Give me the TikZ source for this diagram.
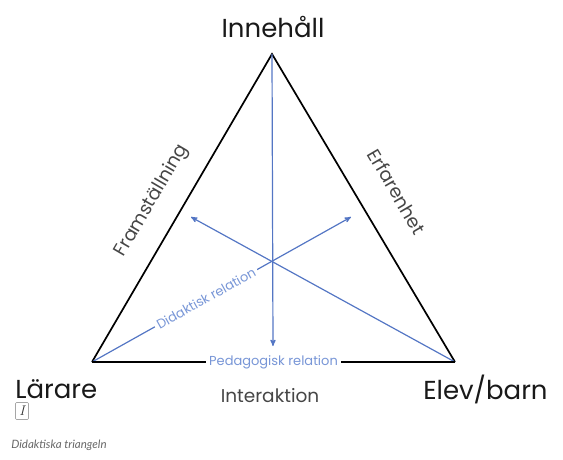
\documentclass[tikz,border=0pt]{standalone}
\usepackage{fontspec}
\setmainfont{Poppins}
\newfontfamily\capfont{Lato}
\newfontfamily\boxfont{Latin Modern Roman}
\usetikzlibrary{arrows}
\definecolor{relblue}{RGB}{84,118,196}
\definecolor{lightblue}{RGB}{120,150,215}
\definecolor{labgray}{RGB}{70,70,70}

\begin{document}
\begin{tikzpicture}[x=1pt,y=-1pt,>=stealth',semithick]
  \tikzstyle{corner}=[font=\fontsize{26}{26}\selectfont,text=black!90,inner sep=0pt]
  \tikzstyle{side}=[font=\fontsize{18.5}{18.5}\selectfont,text=labgray,inner sep=0pt]
  \tikzstyle{relation}=[font=\fontsize{13}{13}\selectfont,text=lightblue,fill=white,inner sep=3pt]
  \tikzstyle{rel}=[->,relblue,line width=1.2pt]
  \tikzstyle{edge}=[black,line width=1.7pt]
  \useasboundingbox (0,0) rectangle (563,459);

  % corners and centre
  \coordinate (inn)  at (272,54);
  \coordinate (lar)  at (92,362);
  \coordinate (elev) at (455,362);
  \coordinate (mid)  at (273,262);
  % arrow tips
  \coordinate (tipD) at (273,346);
  \coordinate (tipL) at (191,217);
  \coordinate (tipR) at (351,217);

  \draw[edge] (lar) -- (inn) -- (elev);

  \draw[rel] (inn) -- (tipD);
  \draw[rel] (elev) -- (tipL);
  \draw[rel] (lar) -- node[relation,sloped,pos=0.44] (did) {Didaktisk relation} (tipR);
  \draw[edge] (lar) -- node[relation] (ped) {Pedagogisk relation} (elev);

  \node[corner,anchor=base]      (innlab)  at (273,37)  {Innehåll};
  \node[corner,anchor=base west] (larlab)  at (15,398)  {Lärare};
  \node[corner,anchor=base west] (elevlab) at (423,399) {Elev/barn};
  \node[side,anchor=base]        (intlab)  at (270,402) {Interaktion};
  \node[side,rotate=59.6]        (framlab) at (152,201) {Framställning};
  \node[side,rotate=-59.6]       (erflab)  at (397,192) {Erfarenhet};

  \node[draw=black!35,rounded corners=1pt,inner sep=1pt,minimum width=13pt,minimum height=17pt,
        font=\boxfont\itshape\fontsize{14}{14}\selectfont,text=black!80] (fig) at (22,411) {I};
  \node[anchor=base west,inner sep=0pt,font=\capfont\itshape\fontsize{11.5}{11.5}\selectfont,text=black!60]
    (caption) at (11,448) {Didaktiska triangeln};
\end{tikzpicture}
\end{document}
